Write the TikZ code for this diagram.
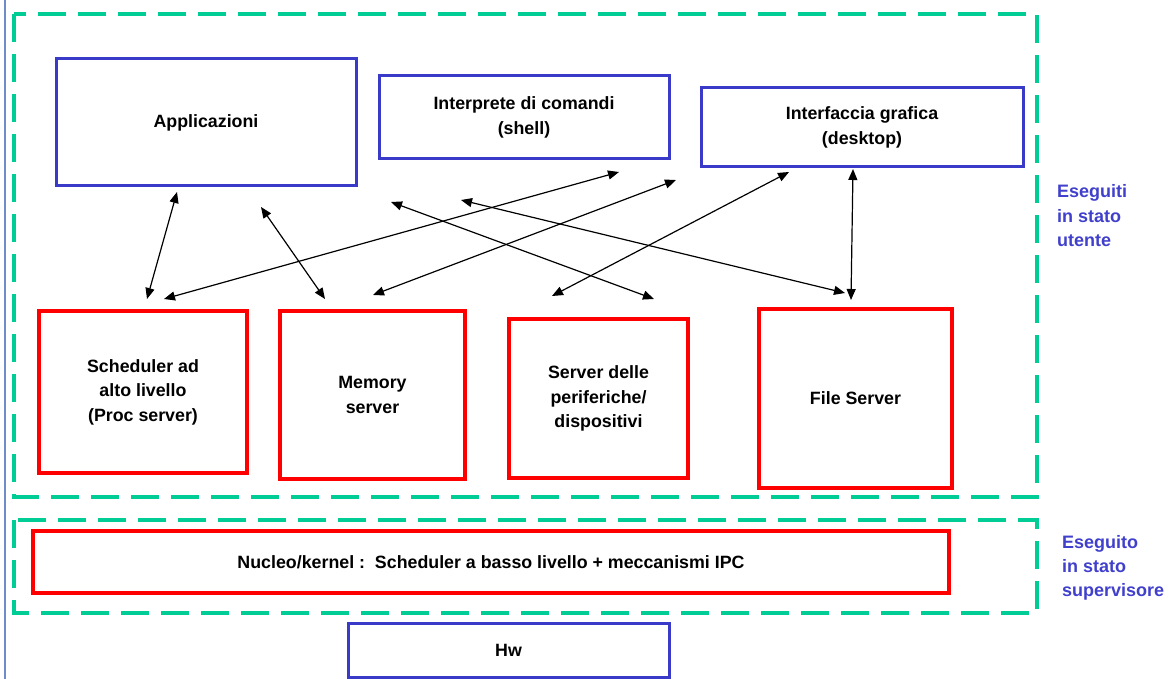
\documentclass[tikz,border=0pt]{standalone}
\usepackage{fontspec}
\setmainfont{Liberation Sans}
\usetikzlibrary{arrows.meta}
\definecolor{boxblue}{RGB}{58,58,200}
\definecolor{boxred}{RGB}{255,0,0}
\definecolor{dashgreen}{RGB}{0,204,150}
\definecolor{labelblue}{RGB}{64,64,204}
\definecolor{edgeblue}{RGB}{110,140,200}
\tikzset{
  bluebox/.style={draw=boxblue, line width=3pt, inner sep=0pt, align=center,
    font=\fontsize{17.8}{24.5}\selectfont\bfseries},
  redbox/.style={draw=boxred, line width=4pt, inner sep=0pt, align=center,
    font=\fontsize{17.8}{24.5}\selectfont\bfseries},
  zone/.style={draw=dashgreen, line width=3.5pt, dash pattern=on 28pt off 12pt},
  sidelabel/.style={text=labelblue, align=left, anchor=base west, inner sep=0pt,
    font=\fontsize{18}{24}\selectfont\bfseries},
  link/.style={line width=1.2pt, {Triangle[length=11pt,width=9pt]}-{Triangle[length=11pt,width=9pt]}}
}
\begin{document}
\begin{tikzpicture}[x=1pt,y=-1pt]
\useasboundingbox (0,0) rectangle (1175,679);
% left edge line
\draw[edgeblue, line width=1.5pt] (5,0) -- (5,679);
% zones
\draw[zone] (14,14) rectangle (1037,497);
\draw[zone] (14,520) rectangle (1037,613);
% boxes
\node[bluebox, minimum width=300pt, minimum height=127pt] (app) at (206,122.5) {Applicazioni};
\node[bluebox, minimum width=290pt, minimum height=83pt] (shell) at (524,117.5) {Interprete di comandi\\(shell)};
\node[bluebox, minimum width=322pt, minimum height=79pt] (gui) at (862,127.5) {Interfaccia grafica\\(desktop)};
\node[redbox, minimum width=208pt, minimum height=162pt] (sched) at (143,392) {Scheduler ad\\alto livello\\(Proc server)};
\node[redbox, minimum width=185pt, minimum height=168pt] (mem) at (372.5,395) {Memory\\server};
\node[redbox, minimum width=179pt, minimum height=159pt] (dev) at (598.5,398.5) {Server delle\\periferiche/\\dispositivi};
\node[redbox, minimum width=193pt, minimum height=179pt] (fs) at (855.5,398.5) {File Server};
\node[redbox, minimum width=916pt, minimum height=62pt] (kern) at (491,562) {Nucleo/kernel :\ \ Scheduler a basso livello + meccanismi IPC};
\node[bluebox, minimum width=321pt, minimum height=54pt] (hw) at (508.5,650) {Hw};
% side labels
\node[sidelabel] (user) at (1057,246) {Eseguiti\\in stato\\utente};
\node[sidelabel] (sup) at (1062,596) {Eseguito\\in stato\\supervisore};
% arrow end points
\coordinate (a1) at (177,192); \coordinate (b1) at (147,299);
\coordinate (a2) at (261,207); \coordinate (b2) at (325,299);
\coordinate (a3) at (619,172); \coordinate (b3) at (164,299);
\coordinate (a4) at (676,180); \coordinate (b4) at (373,295);
\coordinate (a5) at (391,202); \coordinate (b5) at (654,299);
\coordinate (a6) at (461,200); \coordinate (b6) at (845,293);
\coordinate (a7) at (789,172); \coordinate (b7) at (552,296);
\coordinate (a8) at (853,169); \coordinate (b8) at (851,300);
\draw[link] (a1) -- (b1);
\draw[link] (a2) -- (b2);
\draw[link] (a3) -- (b3);
\draw[link] (a4) -- (b4);
\draw[link] (a5) -- (b5);
\draw[link] (a6) -- (b6);
\draw[link] (a7) -- (b7);
\draw[link] (a8) -- (b8);
\end{tikzpicture}
\end{document}
